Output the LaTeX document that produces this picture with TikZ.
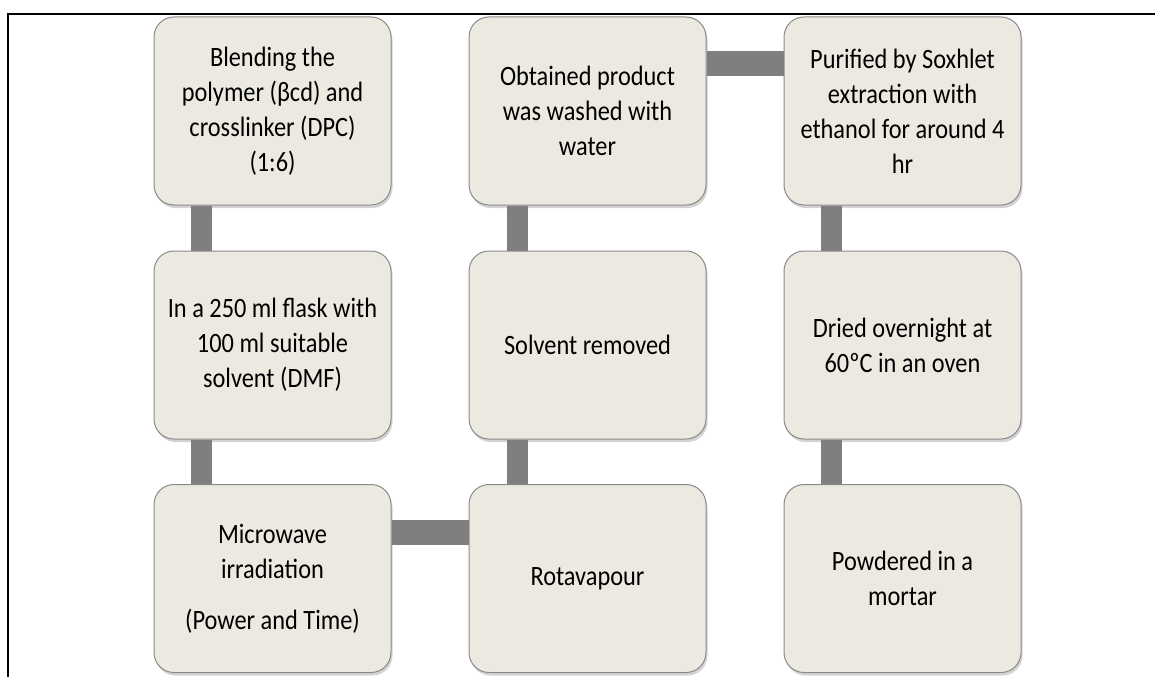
\documentclass[tikz,border=0pt]{standalone}
\usepackage{fontspec}
\setmainfont{Carlito}[FakeStretch=0.87]
\usetikzlibrary{shadows}
\definecolor{boxfill}{HTML}{ECEAE0}
\definecolor{boxline}{HTML}{8A8A8A}
\definecolor{barcol}{HTML}{7F7F7F}
\tikzset{
  stepbox/.style={draw=boxline, fill=boxfill, line width=1pt, rounded corners=20pt,
    minimum width=237pt, minimum height=188pt, align=center,
    font=\fontsize{28pt}{35pt}\selectfont,
    drop shadow={shadow xshift=1.5pt, shadow yshift=-3pt, opacity=0.35}},
  vbar/.style={barcol, line width=21pt},
  hbar/.style={barcol, line width=25pt}
}
\begin{document}
\begin{tikzpicture}[x=1pt, y=-1pt]
          \useasboundingbox (0, 0) rectangle (1155, 677);
          \draw[line width=1.5pt] (1155, 14) -- (8, 14) -- (8, 677);
          % first column
          \node[stepbox] (blend) at (272.5, 111) {Blending the\\polymer (βcd) and\\crosslinker (DPC)\\(1:6)};
          \node[stepbox] (flask) at (272.5, 345) {In a 250 ml flask with\\100 ml suitable\\solvent (DMF)};
          \node[stepbox] (micro) at (272.5, 578.5) {Microwave\\irradiation\\[16pt](Power and Time)};
          % second column
          \node[stepbox] (washed) at (587.5, 111) {Obtained product\\was washed with\\water};
          \node[stepbox] (solvent) at (587.5, 345) {Solvent removed};
          \node[stepbox] (rota) at (587.5, 578.5) {Rotavapour};
          % third column
          \node[stepbox] (soxhlet) at (902.5, 111) {Purified by Soxhlet\\extraction with\\ethanol for around 4\\hr};
          \node[stepbox] (dried) at (902.5, 345) {Dried overnight at\\60ºC in an oven};
          \node[stepbox] (powder) at (902.5, 578.5) {Powdered in a\\mortar};
          % connectors
          \draw[vbar] ([xshift=48pt]blend.south west) -- ([xshift=48pt]flask.north west);
          \draw[vbar] ([xshift=48pt]flask.south west) -- ([xshift=48pt]micro.north west);
          \draw[hbar] ([yshift=-48pt]micro.north east) -- ([yshift=-48pt]rota.north west);
          \draw[vbar] ([xshift=49pt]rota.north west) -- ([xshift=49pt]solvent.south west);
          \draw[vbar] ([xshift=49pt]solvent.north west) -- ([xshift=49pt]washed.south west);
          \draw[hbar] ([yshift=-47pt]washed.north east) -- ([yshift=-47pt]soxhlet.north west);
          \draw[vbar] ([xshift=48pt]soxhlet.south west) -- ([xshift=48pt]dried.north west);
          \draw[vbar] ([xshift=48pt]dried.south west) -- ([xshift=48pt]powder.north west);
        \end{tikzpicture}
\end{document}
